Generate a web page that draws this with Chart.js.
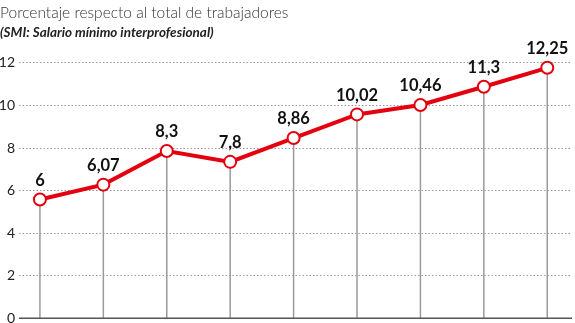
<!DOCTYPE html>
<html><head><meta charset="utf-8">
<script src="https://cdn.jsdelivr.net/npm/chart.js@4/dist/chart.umd.min.js"></script>
<style>html,body{margin:0;padding:0;background:#fff;}#wrap{width:575px;height:323px;}</style>
</head><body><div id="wrap"><canvas id="c"></canvas></div>
<script>
// Data
const categories = ['1', '2', '3', '4', '5', '6', '7', '8', '9'];
const valueLabels = ['6', '6,07', '8,3', '7,8', '8,86', '10,02', '10,46', '11,3', '12,25'];
const values = [5.58, 6.28, 7.86, 7.35, 8.47, 9.58, 10.02, 10.88, 11.77];
const yTicks = [0, 2, 4, 6, 8, 10, 12];

const RED = '#e3000f';
const FONT = "Lato, 'Open Sans', sans-serif";

const dropLines = {
  id: 'dropLines',
  beforeDatasetsDraw(chart) {
    const ctx = chart.ctx, y = chart.scales.y, a = chart.chartArea;
    const meta = chart.getDatasetMeta(0);
    const y0 = y.getPixelForValue(0);
    ctx.save();
    ctx.strokeStyle = '#9a9a9a';
    ctx.lineWidth = 1.5;
    meta.data.forEach(p => {
      ctx.beginPath(); ctx.moveTo(p.x, p.y); ctx.lineTo(p.x, y0); ctx.stroke();
    });
    ctx.strokeStyle = '#555';
    ctx.lineWidth = 1.5;
    ctx.beginPath(); ctx.moveTo(a.left, y0); ctx.lineTo(a.right, y0); ctx.stroke();
    ctx.restore();
  }
};
const valueTags = {
  id: 'valueTags',
  afterDatasetsDraw(chart) {
    const ctx = chart.ctx;
    const meta = chart.getDatasetMeta(0);
    ctx.save();
    ctx.font = "bold 16.5px " + FONT;
    ctx.fillStyle = '#111';
    ctx.textAlign = 'center';
    ctx.textBaseline = 'middle';
    meta.data.forEach((p, i) => ctx.fillText(valueLabels[i], p.x, p.y - 19));
    ctx.restore();
  }
};

new Chart(document.getElementById('c'), {
  type: 'line',
  data: {
    labels: categories,
    datasets: [{
      data: values.map((v, i) => ({x: i, y: v})),
      borderColor: RED,
      borderWidth: 4,
      pointRadius: 6,
      pointHoverRadius: 6,
      pointBorderWidth: 2,
      pointBackgroundColor: '#fff',
      pointBorderColor: RED,
      tension: 0,
      clip: false
    }]
  },
  options: {
    responsive: true,
    maintainAspectRatio: false,
    animation: false,
    events: [],
    layout: {autoPadding: false, padding: {left: 0, right: 3, top: 0, bottom: 3}},
    plugins: {
      legend: {display: false},
      tooltip: {enabled: false},
      title: {
        display: true, align: 'start', text: 'Porcentaje respecto al total de trabajadores',
        color: '#333', font: {family: FONT, size: 15.5, weight: 300}, padding: {top: 3.5, bottom: 2.6}
      },
      subtitle: {
        display: true, align: 'start', text: '(SMI: Salario mínimo interprofesional)',
        color: '#222', font: {family: FONT, size: 13.5, weight: 'bold', style: 'italic'}, padding: {top: 0, bottom: 22}
      }
    },
    scales: {
      x: {
        type: 'linear', min: -0.33, max: 8.39, display: false
      },
      y: {
        min: 0, max: 12,
        afterBuildTicks(s) { s.ticks = yTicks.map(v => ({value: v})); },
        afterFit(s) { s.width = 19; },
        ticks: {color: '#222', font: {family: FONT, size: 14, lineHeight: 0.1}, padding: 4},
        grid: {color: '#999', lineWidth: 1, drawTicks: false},
        border: {display: false, dash: [1.5, 2]}
      }
    }
  },
  plugins: [dropLines, valueTags]
});
</script></body></html>
